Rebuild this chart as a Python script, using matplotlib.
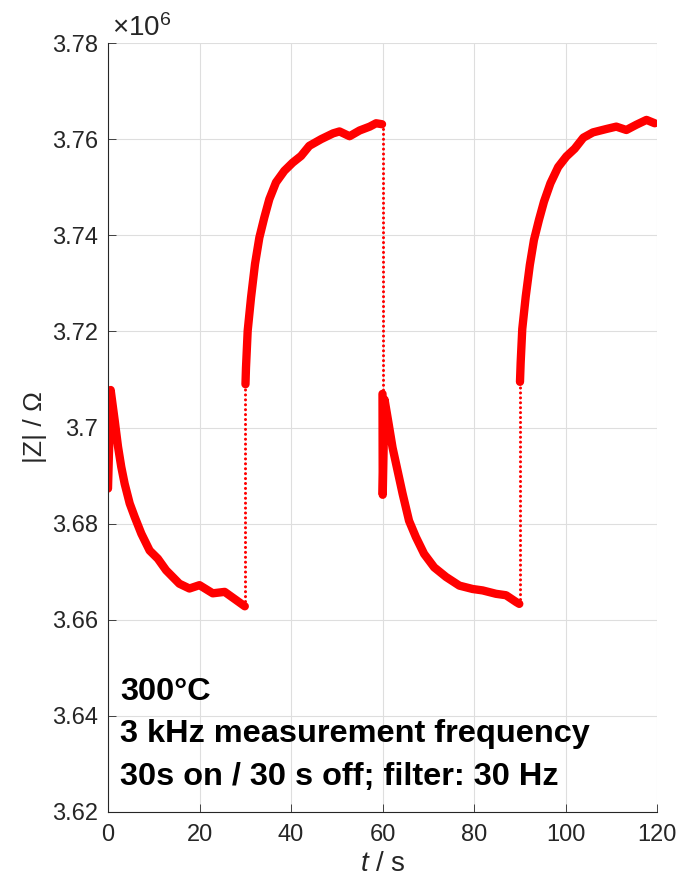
import matplotlib.pyplot as plt
from matplotlib.ticker import FuncFormatter

plt.rcParams['font.family'] = ['Liberation Sans', 'DejaVu Sans']
plt.rcParams['mathtext.fontset'] = 'custom'
plt.rcParams['mathtext.rm'] = 'Liberation Sans'
plt.rcParams['mathtext.it'] = 'Liberation Sans:italic'

# |Z| in units of 1e6 Ohm, one list pair per half period
t_on1 = [0.0, 0.58, 1.46, 2.19, 2.9, 3.64, 4.74, 5.83, 7.29, 9.1, 10.9, 12.7,
         15.6, 17.8, 20.0, 22.9, 25.5, 28.0, 29.9]
z_on1 = [3.6873, 3.7078, 3.7015, 3.6960, 3.6918, 3.6883, 3.6842, 3.6814,
         3.6779, 3.6744, 3.6727, 3.6703, 3.6675, 3.6665, 3.6672, 3.6655,
         3.6658, 3.6641, 3.6628]

t_off1 = [30.05, 30.16, 30.53, 31.26, 32.13, 33.08, 34.17, 35.26, 36.72,
          38.54, 40.36, 42.2, 44.0, 46.6, 49.2, 50.6, 52.8, 55.0, 57.2, 58.6,
          59.9]
z_off1 = [3.709, 3.7124, 3.7201, 3.7270, 3.7340, 3.7395, 3.7437, 3.7475,
          3.7510, 3.7534, 3.7551, 3.7565, 3.7586, 3.7600, 3.7612, 3.7616,
          3.7606, 3.7618, 3.7626, 3.7633, 3.7631]

t_on2 = [60.0, 60.05, 60.45, 61.3, 62.2, 63.3, 64.4, 65.8, 67.3, 69.1, 71.3,
         73.9, 76.8, 79.7, 81.9, 84.8, 87.0, 89.2, 89.9]
z_on2 = [3.707, 3.686, 3.7058, 3.7010, 3.6958, 3.6910, 3.6862, 3.6806,
         3.6772, 3.6737, 3.6709, 3.6689, 3.6671, 3.6664, 3.6661, 3.6654,
         3.6651, 3.6637, 3.6633]

t_off2 = [90.05, 90.2, 90.55, 91.3, 92.2, 93.1, 94.2, 95.3, 96.7, 98.4,
          100.2, 102.0, 103.9, 106.0, 108.9, 111.1, 113.3, 115.5, 117.7, 119.5]
z_off2 = [3.7095, 3.7135, 3.7205, 3.7272, 3.7338, 3.7390, 3.7432, 3.7470,
          3.7508, 3.7542, 3.7564, 3.7580, 3.7603, 3.7614, 3.7621, 3.7626,
          3.7619, 3.7630, 3.7640, 3.7633]

# switching instants: sparse samples during the fast step
step_t = [30.05, 60.0, 90.05]
step_from = [3.6628, 3.7631, 3.6633]
step_to = [3.709, 3.707, 3.7095]

x_ticks = [0, 20, 40, 60, 80, 100, 120]
y_ticks = [3.62, 3.64, 3.66, 3.68, 3.70, 3.72, 3.74, 3.76, 3.78]

notes = ['300°C', '3 kHz measurement frequency',
         '30s on / 30 s off; filter: 30 Hz']

dark = '#262626'

fig = plt.figure(figsize=(6.81, 8.81), dpi=100)
ax = fig.add_axes([108 / 681, 1 - 812 / 881, 549 / 681, 769 / 881])

for t, z in [(t_on1, z_on1), (t_off1, z_off1), (t_on2, z_on2), (t_off2, z_off2)]:
    ax.plot(t, z, color='red', lw=6, solid_joinstyle='round',
            solid_capstyle='round')

for t, z0, z1 in zip(step_t, step_from, step_to):
    ax.plot([t, t], [z0, z1], color='red', lw=2.2,
            linestyle=(0, (0.01, 1.6)), dash_capstyle='round')

ax.set_xlim(0, 120)
ax.set_ylim(3.62, 3.78)
ax.set_xticks(x_ticks)
ax.set_yticks(y_ticks)
ax.yaxis.set_major_formatter(FuncFormatter(lambda v, p: '%g' % round(v, 2)))

ax.grid(True, color='#dedede', lw=0.8)
ax.set_axisbelow(True)
for s in ['top', 'right']:
    ax.spines[s].set_visible(False)
for s in ['left', 'bottom']:
    ax.spines[s].set_color(dark)
    ax.spines[s].set_linewidth(0.8)

ax.tick_params(direction='in', length=5.5, width=0.6, color=dark,
               labelcolor=dark, labelsize=17)
ax.tick_params(axis='x', pad=8.5)
ax.tick_params(axis='y', pad=7)

ax.set_ylabel('|Z| / Ω', fontsize=19, color=dark, labelpad=4)
ax.set_xlabel(r'$t$ / s', fontsize=20, color=dark, labelpad=4)

ax.text(0.007, 1.009, r'$\times\mathregular{10^{6}}$', transform=ax.transAxes,
        fontsize=20, color=dark, va='baseline', ha='left')

for txt, yb in zip(notes, [0.1456, 0.091, 0.0351]):
    ax.text(0.022, yb, txt, transform=ax.transAxes, fontsize=23.4,
            fontweight='bold', color='black', va='baseline', ha='left')

fig.savefig('out.png', dpi=100)
